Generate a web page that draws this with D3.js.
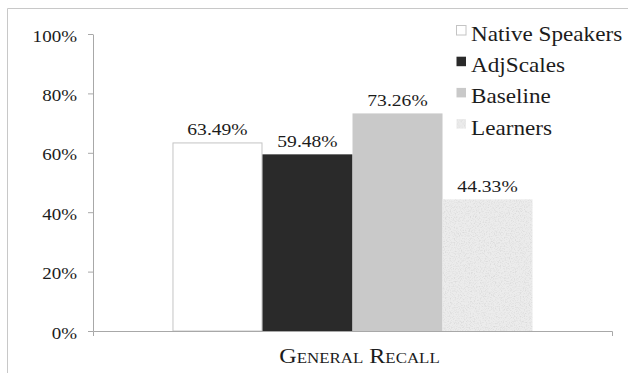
<!DOCTYPE html>
<html>
<head>
<meta charset="utf-8">
<script src="https://cdn.jsdelivr.net/npm/d3@7"></script>
<style>
  html, body { margin: 0; padding: 0; background: #fff; }
  svg { display: block; }
  text { font-family: "Liberation Serif", "Times New Roman", serif; fill: #1c1c1c; }
</style>
</head>
<body>
<svg id="chart" width="628" height="373"></svg>
<script>
// Recall rates for one measure, four groups
const categories = ["General Recall"];
const series = ["Native Speakers", "AdjScales", "Baseline", "Learners"];
const values = [0.6349, 0.5948, 0.7326, 0.4433];
const valueLabels = ["63.49%", "59.48%", "73.26%", "44.33%"];
const yTicks = [0, 0.2, 0.4, 0.6, 0.8, 1.0];

const fills = ["#ffffff", "#2a2a2a", "#c9c9c9", "url(#speckleFill)"];
const strokes = ["#c4c4c4", "none", "none", "none"];
const sx = 1.12; // slight horizontal widening of the serif glyphs
const serif = "'Liberation Serif', 'Times New Roman', serif";

const svg = d3.select("#chart");
const W = 628, H = 373;

// speckled texture for the last series
const defs = svg.append("defs");
const f = defs.append("filter").attr("id", "speckle")
  .attr("x", 0).attr("y", 0).attr("width", 1).attr("height", 1)
  .attr("filterUnits", "objectBoundingBox");
f.append("feTurbulence").attr("type", "fractalNoise")
  .attr("baseFrequency", 0.8).attr("numOctaves", 2).attr("seed", 7).attr("result", "n");
f.append("feColorMatrix").attr("in", "n").attr("type", "matrix")
  .attr("values", "0 0 0 0 0.66  0 0 0 0 0.66  0 0 0 0 0.66  2.0 0 0 0 -0.9")
  .attr("result", "dots");
f.append("feComposite").attr("in", "dots").attr("in2", "SourceGraphic")
  .attr("operator", "in").attr("result", "clipped");
const fm = f.append("feMerge");
fm.append("feMergeNode").attr("in", "SourceGraphic");
fm.append("feMergeNode").attr("in", "clipped");

const pat = defs.append("pattern").attr("id", "speckleFill")
  .attr("patternUnits", "userSpaceOnUse").attr("width", 200).attr("height", 300);
pat.append("rect").attr("width", 200).attr("height", 300)
  .attr("fill", "#ececec").attr("filter", "url(#speckle)");

// outer frame
svg.append("path")
  .attr("d", `M7.5,${H + 2}V8.5H${W + 2}`)
  .attr("fill", "none").attr("stroke", "#c8c8c8").attr("stroke-width", 1);

const y = d3.scaleLinear().domain([0, 1]).range([331, 34]);
const x0 = d3.scaleBand().domain(categories).range([93, 612]).padding(0);
const x1 = d3.scaleBand().domain(series).range([0, x0.bandwidth()])
  .paddingInner(0).paddingOuter(0.883);

// y axis
const yAxis = svg.append("g").attr("transform", "translate(93,0)")
  .call(d3.axisLeft(y).tickValues(yTicks).tickFormat(d3.format(".0%"))
    .tickSizeInner(5).tickSizeOuter(0).tickPadding(11));
yAxis.attr("font-family", null).attr("font-size", null);
yAxis.select(".domain").attr("stroke", "#a8a8a8");
yAxis.selectAll(".tick line").attr("stroke", "#a8a8a8");
yAxis.selectAll(".tick text")
  .style("font-family", serif).style("font-size", "17px").style("fill", "#1c1c1c")
  .attr("x", -16 / sx).attr("dy", "0.42em")
  .attr("transform", `scale(${sx},1)`);

// bars
const group = svg.append("g").selectAll("g").data(categories).join("g")
  .attr("transform", d => `translate(${x0(d)},0)`);

const barData = series.map((s, i) => ({ s, v: values[i], i }));
group.selectAll("rect").data(barData)
  .join("rect")
  .attr("x", d => x1(d.s) + (strokes[d.i] !== "none" ? 0.5 : 0))
  .attr("y", d => y(d.v) + (strokes[d.i] !== "none" ? 0.5 : 0))
  .attr("width", d => x1.bandwidth() - (strokes[d.i] !== "none" ? 1 : 0))
  .attr("height", d => y(0) - y(d.v) - (strokes[d.i] !== "none" ? 0.5 : 0))
  .attr("fill", d => fills[d.i])
  .attr("stroke", d => strokes[d.i]);

// value labels
group.selectAll("text.val").data(barData)
  .join("text").attr("class", "val")
  .attr("text-anchor", "middle")
  .style("font-family", serif).style("font-size", "17.5px")
  .attr("transform", d => `translate(${x1(d.s) + x1.bandwidth() / 2},${y(d.v) - 7}) scale(${sx},1)`)
  .text(d => valueLabels[d.i]);

// x axis (baseline with end ticks)
const xAxis = svg.append("g").attr("transform", "translate(0,331)")
  .call(d3.axisBottom(x0).tickSizeInner(0).tickSizeOuter(5).tickFormat(""));
xAxis.select(".domain").attr("stroke", "#a8a8a8");
xAxis.selectAll(".tick").remove();

// category title in small caps
svg.selectAll("text.cat").data(categories).join("text").attr("class", "cat")
  .attr("text-anchor", "middle")
  .style("font-family", serif).style("font-size", "21.5px")
  .style("font-variant", "small-caps")
  .attr("transform", d => `translate(${x0(d) + x0.bandwidth() / 2 + 7},363) scale(${sx},1)`)
  .text(d => d);

// legend
const legend = svg.append("g").attr("transform", "translate(456,0)");
const rows = legend.selectAll("g").data(series).join("g")
  .attr("transform", (d, i) => `translate(0,${41 + i * 31.2})`);
rows.append("rect")
  .attr("x", 0.5).attr("y", -15.5).attr("width", 9.5).attr("height", 9.5)
  .attr("fill", (d, i) => fills[i])
  .attr("stroke", (d, i) => strokes[i] === "none" ? "none" : "#c4c4c4");
rows.append("text")
  .style("font-family", serif).style("font-size", "20.7px")
  .attr("transform", `translate(15,0) scale(${sx},1)`)
  .text(d => d);
</script>
</body>
</html>
